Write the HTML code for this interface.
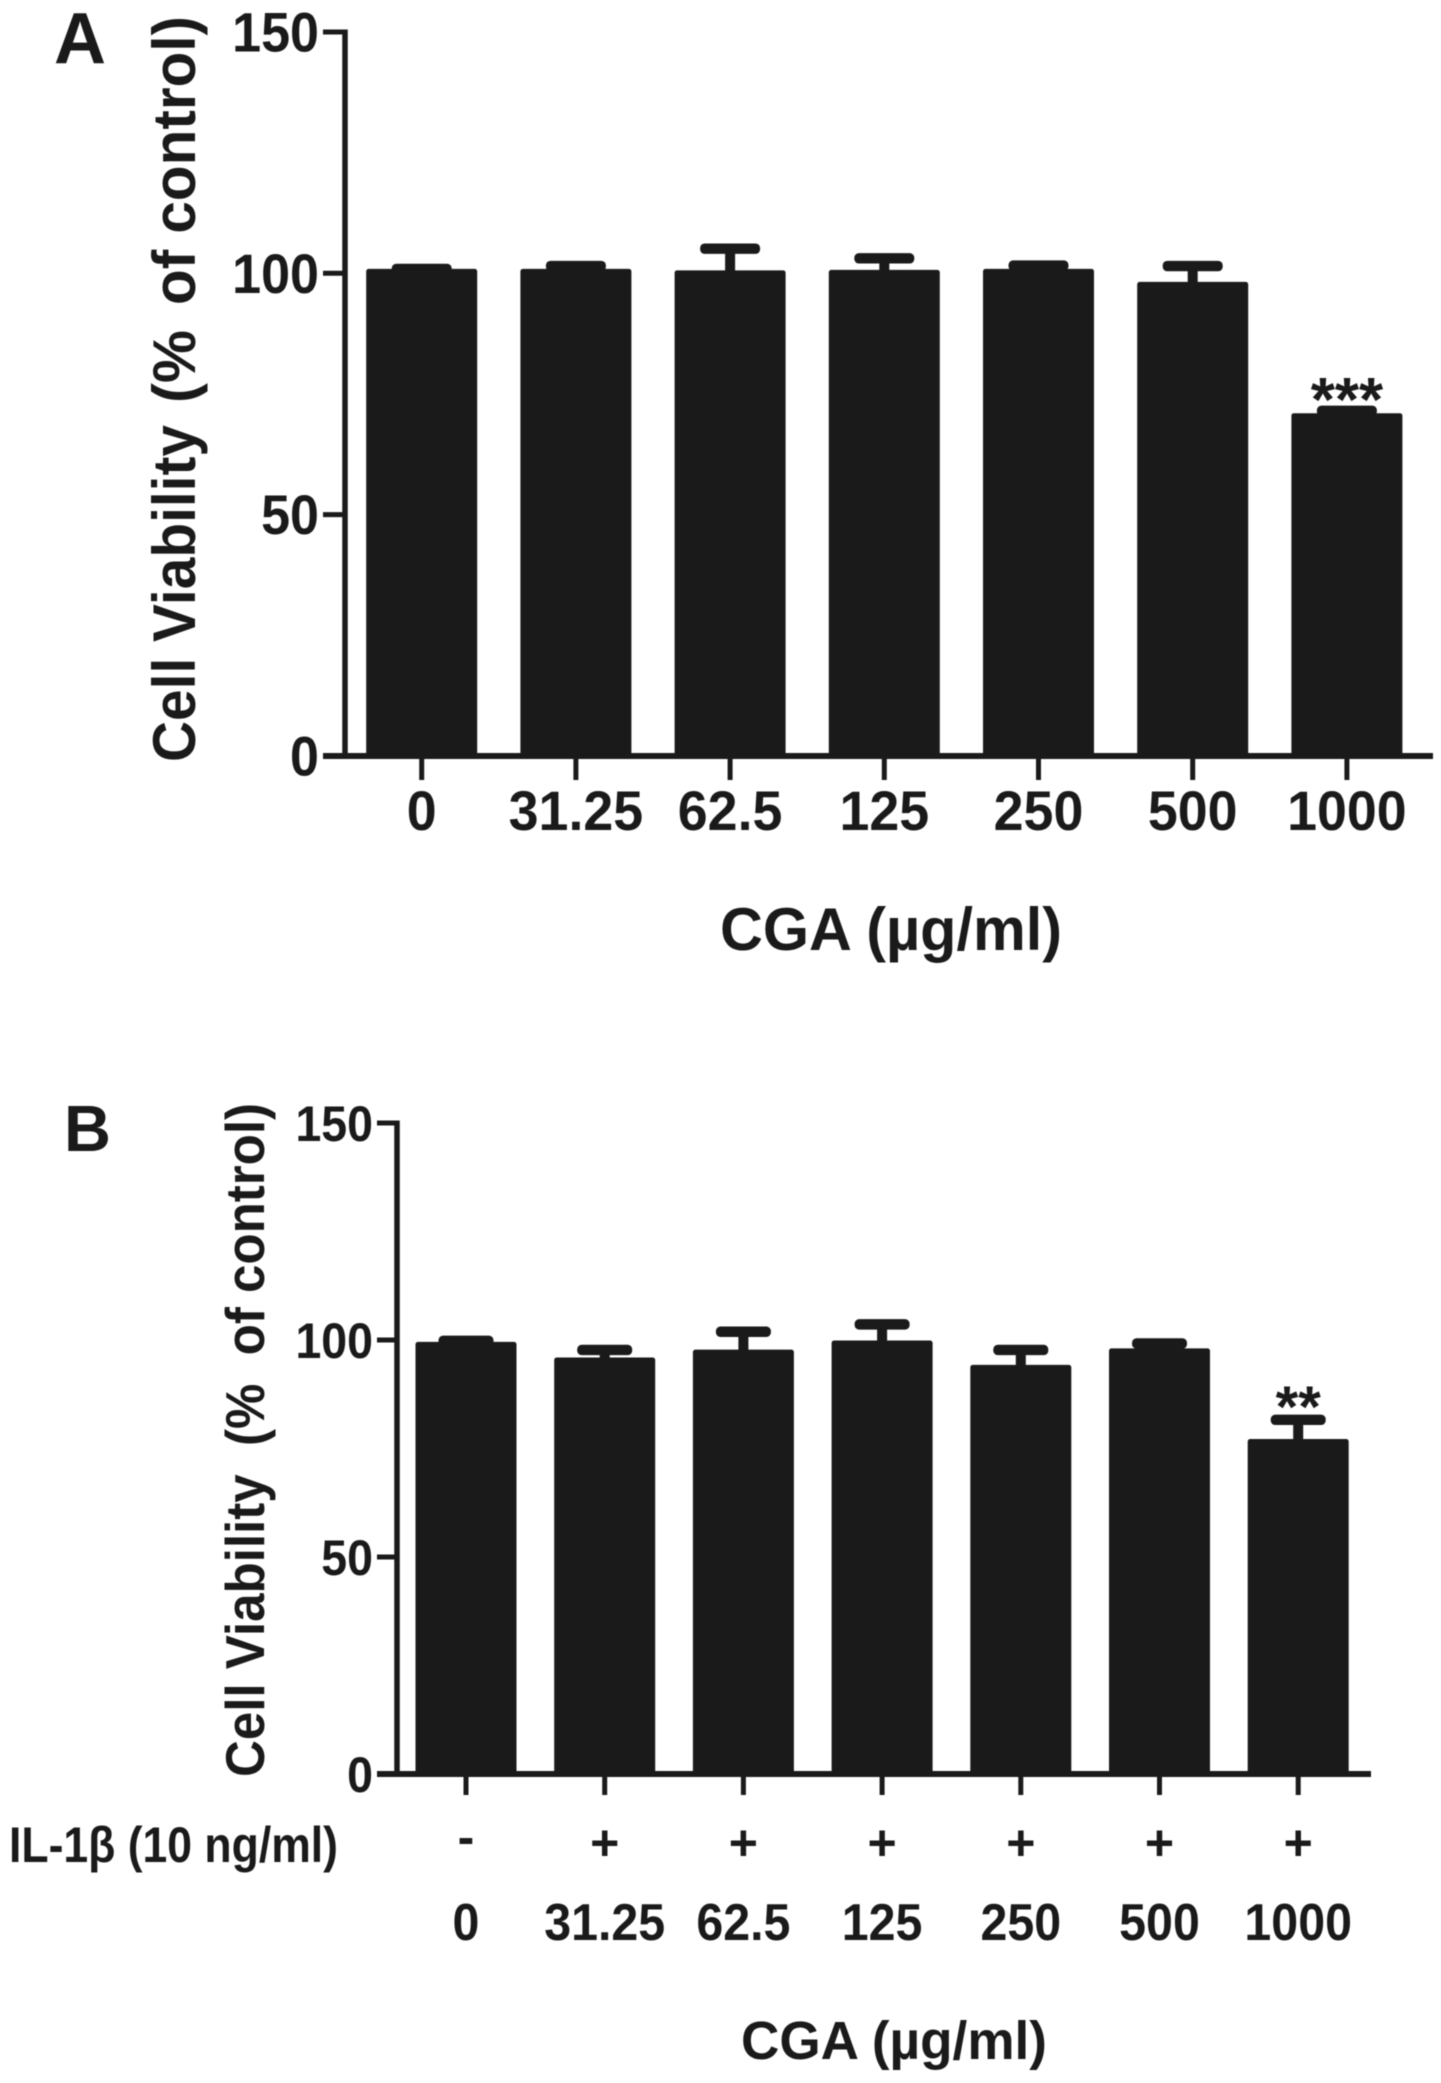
<!DOCTYPE html>
<html lang="en">
<head>
<meta charset="utf-8">
<title>Cell viability bar charts</title>
<style>
  html, body { margin: 0; padding: 0; background: #fff; }
  body { width: 1441px; height: 2083px; overflow: hidden; }
  svg { display: block; filter: blur(0.6px); }
  text { font-family: "Liberation Sans", "DejaVu Sans", sans-serif; font-weight: bold; fill: #1a1a1a; white-space: pre; }
</style>
</head>
<body>
<svg id="figure" xmlns="http://www.w3.org/2000/svg" width="1441" height="2083" viewBox="0 0 1441 2083">
  <rect x="0" y="0" width="1441" height="2083" fill="#ffffff"/>
  <text x="54" y="63" font-size="72">A</text>
  <text x="64" y="1151" font-size="65">B</text>
  <text transform="translate(195,762) rotate(-90)" font-size="60" textLength="337" lengthAdjust="spacingAndGlyphs">Cell Viability</text>
  <text transform="translate(195,403) rotate(-90)" font-size="60" textLength="73" lengthAdjust="spacingAndGlyphs">(%</text>
  <text transform="translate(195,305) rotate(-90)" font-size="60" textLength="289" lengthAdjust="spacingAndGlyphs">of control)</text>
  <text transform="translate(264,1777) rotate(-90)" font-size="55" textLength="674" lengthAdjust="spacingAndGlyphs" xml:space="preserve">Cell Viability  (%  of control)</text>
  <text x="720" y="950" font-size="60" textLength="342" lengthAdjust="spacingAndGlyphs">CGA (µg/ml)</text>
  <text x="741" y="2059" font-size="54" textLength="306" lengthAdjust="spacingAndGlyphs">CGA (µg/ml)</text>
  <text x="9" y="1862" font-size="50" textLength="329" lengthAdjust="spacingAndGlyphs">IL-1β (10 ng/ml)</text>
</svg>
<script>
const categoriesA = ["0", "31.25", "62.5", "125", "250", "500", "1000"];
const valuesA = [100.4, 100.4, 100.1, 100.2, 100.4, 97.7, 70.5];
const errorsA = [0.5, 1.1, 5.0, 2.9, 1.2, 3.8, 1.0];
const significanceA = ["", "", "", "", "", "", "***"];
const yTicksA = [0, 50, 100, 150];

const categoriesB = ["0", "31.25", "62.5", "125", "250", "500", "1000"];
const valuesB = [99.0, 95.4, 97.2, 99.3, 93.7, 97.5, 76.6];
const errorsB = [0.8, 2.3, 4.7, 4.3, 4.0, 1.7, 5.0];
const significanceB = ["", "", "", "", "", "", "**"];
const yTicksB = [0, 50, 100, 150];
const il1bSigns = ["-", "+", "+", "+", "+", "+", "+"];

const INK = "#1a1a1a";
const SVG_NS = "http://www.w3.org/2000/svg";
const svg = document.getElementById("figure");

function makeEl(tag, attrs) {
  const el = document.createElementNS(SVG_NS, tag);
  for (const key in attrs) el.setAttribute(key, attrs[key]);
  svg.appendChild(el);
  return el;
}

function makeText(str, x, y, size, anchor, scaleX) {
  const el = makeEl("text", {
    transform: "translate(" + x + "," + y + ") scale(" + scaleX + ",1)",
    "font-size": size,
    "text-anchor": anchor
  });
  el.textContent = str;
  return el;
}

function drawPanel(p, categories, values, errors, significance, yTicks) {
  const yScale = v => p.y0 - v * p.unit;
  const xScale = i => p.x0 + i * p.pitch;

  categories.forEach((cat, i) => {
    const cx = xScale(i);
    const top = yScale(values[i]);
    const bar = makeEl("rect", {
      x: cx - p.barW / 2, y: top, width: p.barW, height: p.y0 - top,
      fill: INK, stroke: INK, "stroke-width": 5, "stroke-linejoin": "round"
    });
    
    

    const capY = yScale(values[i] + errors[i]);
    const stem = makeEl("rect", {
      x: cx - 5, y: capY, width: 10, height: Math.max(0, top - capY) + 3, fill: INK
    });
    
    

    const cap = makeEl("rect", {
      x: cx - p.capW / 2, y: capY - 5.2, width: p.capW, height: 10.4, rx: 4.5, fill: INK
    });
    
    

    const tick = makeEl("line", {
      x1: cx, x2: cx, y1: p.y0, y2: p.y0 + p.xTickLen, stroke: INK, "stroke-width": 5
    });
    
    

    const label = makeText(cat, cx, p.xLabelY, p.xLabelSize, "middle", p.xTextScale);
    
    

    if (significance[i]) {
      const star = makeText(significance[i], cx, capY + p.sigOffset, p.sigSize, "middle", 1);
      
      
    }
  });

  const yAxis = makeEl("line", {
    x1: p.axisX, x2: p.axisX, y1: yScale(yTicks[yTicks.length - 1]) - 2.5, y2: p.y0,
    stroke: INK, "stroke-width": 5.5
  });
  
  

  const xAxis = makeEl("line", {
    x1: p.tickLeft, x2: p.xAxisEnd, y1: p.y0, y2: p.y0, stroke: INK, "stroke-width": 6
  });
  
  

  yTicks.forEach(v => {
    const y = yScale(v);
    const tick = makeEl("line", {
      x1: p.tickLeft, x2: p.axisX, y1: y, y2: y, stroke: INK, "stroke-width": 5
    });
    
    

    const label = makeText(String(v), p.yLabelX, y + p.yLabelDy, p.yLabelSize, "end", p.textScale);
    
    
  });
}

drawPanel({
  id: "panel-a", x0: 421.7, pitch: 154.2, barW: 106, capW: 60,
  y0: 756, unit: 4.827, axisX: 345, tickLeft: 323, xAxisEnd: 1433,
  xTickLen: 24, xLabelY: 830, xLabelSize: 56, textScale: 0.93, xTextScale: 0.96,
  yLabelX: 319, yLabelDy: 19.5, yLabelSize: 56, sigOffset: 10, sigSize: 62
}, categoriesA, valuesA, errorsA, significanceA, yTicksA);

drawPanel({
  id: "panel-b", x0: 466, pitch: 138.7, barW: 96, capW: 55,
  y0: 1774, unit: 4.34, axisX: 397, tickLeft: 377, xAxisEnd: 1371,
  xTickLen: 21, xLabelY: 1940, xLabelSize: 52, textScale: 0.93, xTextScale: 0.93,
  yLabelX: 373, yLabelDy: 18, yLabelSize: 50, sigOffset: 7, sigSize: 58
}, categoriesB, valuesB, errorsB, significanceB, yTicksB);

il1bSigns.forEach((sign, i) => {
  const mark = makeText(sign, 466 + i * 138.7, sign === "+" ? 1860 : 1854, 50, "middle", 1);
  
  
});
</script>
</body>
</html>
